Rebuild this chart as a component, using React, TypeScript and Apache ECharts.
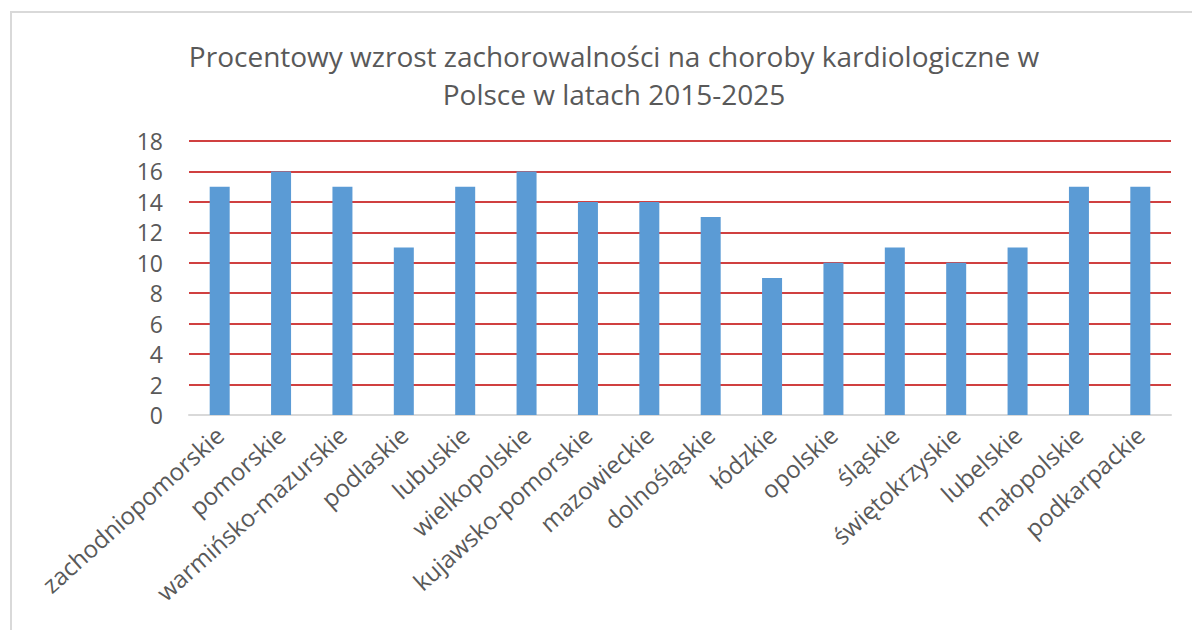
import React, { useEffect, useRef } from "react";
import * as echarts from "echarts";

const titleText = "Procentowy wzrost zachorowalności na choroby kardiologiczne w\nPolsce w latach 2015-2025";
const regions = [
  "zachodniopomorskie", "pomorskie", "warmińsko-mazurskie", "podlaskie",
  "lubuskie", "wielkopolskie", "kujawsko-pomorskie", "mazowieckie",
  "dolnośląskie", "łódzkie", "opolskie", "śląskie",
  "świętokrzyskie", "lubelskie", "małopolskie", "podkarpackie",
];
const growth = [15, 16, 15, 11, 15, 16, 14, 14, 13, 9, 10, 11, 10, 11, 15, 15];
const yMin = 0;
const yMax = 18;
const yStep = 2;

export default function App() {
  const ref = useRef<HTMLDivElement>(null);
  useEffect(() => {
    document.body.style.margin = "0";
    const chart = echarts.init(ref.current!, null, { renderer: "svg" });
    chart.setOption({
      animation: false,
      backgroundColor: "#ffffff",
      textStyle: { fontFamily: "Open Sans" },
      graphic: [
        {
          type: "rect",
          shape: { x: 11, y: 12, width: 1300, height: 800 },
          style: { fill: "none", stroke: "#d9d9d9", lineWidth: 2 },
          silent: true,
          z: -1,
        },
      ],
      title: {
        text: titleText,
        left: 609,
        textAlign: "center",
        top: 32,
        textStyle: {
          fontFamily: "Open Sans",
          fontSize: 28,
          fontWeight: "normal",
          color: "#595959",
          lineHeight: 38,
        },
      },
      grid: { left: 189, right: 21, top: 141, bottom: 215, containLabel: false },
      xAxis: {
        type: "category",
        data: regions,
        axisLine: { lineStyle: { color: "#d9d9d9", width: 2 } },
        axisTick: { show: false },
        axisLabel: {
          rotate: 42,
          interval: 0,
          margin: 16,
          fontSize: 24,
          color: "#595959",
          fontFamily: "Open Sans",
        },
      },
      yAxis: {
        type: "value",
        min: yMin,
        max: yMax,
        interval: yStep,
        axisLine: { show: false },
        axisTick: { show: false },
        splitLine: { lineStyle: { color: "#c00000", width: 1.5 } },
        axisLabel: {
          fontSize: 23,
          color: "#595959",
          margin: 26,
          fontFamily: "Open Sans",
        },
      },
      series: [
        {
          type: "bar",
          data: growth,
          barWidth: 20,
          itemStyle: { color: "#5b9bd5" },
        },
      ],
    });
    return () => chart.dispose();
  }, []);
  return <div ref={ref} style={{ width: 1192, height: 630 }} />;
}
